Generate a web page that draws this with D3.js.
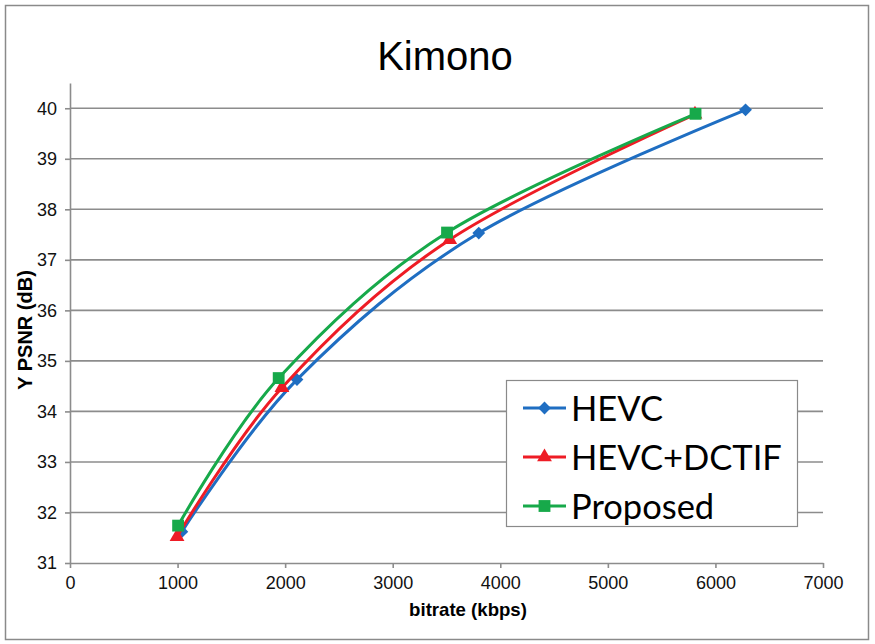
<!DOCTYPE html>
<html>
<head>
<meta charset="utf-8">
<script src="https://cdn.jsdelivr.net/npm/d3@7"></script>
<style>
  body { margin: 0; background: #fff; }
  svg { display: block; }
</style>
</head>
<body>
<div id="graph"></div>
<script>
// data
var seriesNames = ["HEVC", "HEVC+DCTIF", "Proposed"];
var hevcRate = [1040, 2110, 3800, 6280];
var hevcPsnr = [31.62, 34.63, 37.53, 39.97];
var dctifRate = [995, 1970, 3530, 5810];
var dctifPsnr = [31.52, 34.47, 37.40, 39.88];
var propRate = [1005, 1940, 3505, 5815];
var propPsnr = [31.74, 34.66, 37.54, 39.89];
var xTicks = [0, 1000, 2000, 3000, 4000, 5000, 6000, 7000];
var yTicks = [31, 32, 33, 34, 35, 36, 37, 38, 39, 40];

var colors = ["#1f6ec2", "#ee1c25", "#17a94a"];
// diamond = square turned 45 degrees
var markers = [d3.symbolSquare, d3.symbolTriangle, d3.symbolSquare];
var sizes = [82, 95, 140];
var rot = [45, 0, 0];

function zip(xs, ys) {
    return xs.map(function (x, i) { return {x: x, y: ys[i]}; });
}
var series = [
    {name: seriesNames[0], values: zip(hevcRate, hevcPsnr)},
    {name: seriesNames[1], values: zip(dctifRate, dctifPsnr)},
    {name: seriesNames[2], values: zip(propRate, propPsnr)}
];

var width = 875, height = 644;
var svg = d3.select("#graph").append("svg")
    .attr("width", width)
    .attr("height", height);

// outer frame
svg.append("rect")
    .attr("x", 5.5).attr("y", 5.5)
    .attr("width", 863).attr("height", 634)
    .attr("fill", "#fff")
    .attr("stroke", "#8a8a8a")
    .attr("stroke-width", 1.5);

var x = d3.scaleLinear().domain([0, 7000]).range([70, 823]);
var y = d3.scaleLinear().domain([31, 40.5]).range([563, 83]);

var grid = "#8c8c8c";
var font = "'Liberation Sans', Arial, sans-serif";

// gridlines
svg.append("g").selectAll("line")
    .data(yTicks.slice(1))
    .enter().append("line")
    .attr("x1", x(0)).attr("x2", x(7000))
    .attr("y1", function (d) { return y(d); })
    .attr("y2", function (d) { return y(d); })
    .attr("stroke", grid)
    .attr("stroke-width", 1.6);

var xAxis = svg.append("g")
    .attr("transform", "translate(0," + y(31) + ")")
    .call(d3.axisBottom(x).tickValues(xTicks).tickFormat(d3.format("d"))
        .tickSize(5).tickSizeOuter(0).tickPadding(8));

var yAxis = svg.append("g")
    .attr("transform", "translate(" + x(0) + ",0)")
    .call(d3.axisLeft(y).tickValues(yTicks).tickFormat(d3.format("d"))
        .tickSize(5).tickSizeOuter(0).tickPadding(8));

[xAxis, yAxis].forEach(function (a) {
    a.select(".domain").attr("stroke", grid).attr("stroke-width", 1.6);
    a.selectAll(".tick line").attr("stroke", grid).attr("stroke-width", 1.6);
    a.selectAll("text")
        .attr("fill", "#111")
        .style("font-family", font)
        .style("font-size", "18px");
});

// title and axis labels
svg.append("text")
    .attr("x", 445).attr("y", 70)
    .attr("text-anchor", "middle")
    .style("font-family", font)
    .style("font-size", "40px")
    .text("Kimono");

svg.append("text")
    .attr("x", 468).attr("y", 616)
    .attr("text-anchor", "middle")
    .style("font-family", font)
    .style("font-weight", "bold")
    .style("font-size", "18.6px")
    .text("bitrate (kbps)");

svg.append("text")
    .attr("transform", "translate(32,330) rotate(-90)")
    .attr("text-anchor", "middle")
    .style("font-family", font)
    .style("font-weight", "bold")
    .style("font-size", "20px")
    .text("Y PSNR (dB)");

// smoothed lines like Excel
var line = d3.line()
    .x(function (d) { return x(d.x); })
    .y(function (d) { return y(d.y); })
    .curve(d3.curveCardinal.tension(0));

series.forEach(function (s, i) {
    var g = svg.append("g");
    g.append("path")
        .datum(s.values)
        .attr("fill", "none")
        .attr("stroke", colors[i])
        .attr("stroke-width", 3)
        .attr("d", line);
    g.selectAll(".pt")
        .data(s.values)
        .enter().append("path")
        .attr("class", "pt")
        .attr("transform", function (d) {
            return "translate(" + x(d.x) + "," + y(d.y) + ") rotate(" + rot[i] + ")";
        })
        .attr("d", d3.symbol().type(markers[i]).size(sizes[i]))
        .attr("fill", colors[i]);
});

// legend
var lg = svg.append("g");
lg.append("rect")
    .attr("x", 506.5).attr("y", 380.5)
    .attr("width", 291).attr("height", 146)
    .attr("fill", "#fff")
    .attr("stroke", "#8a8a8a")
    .attr("stroke-width", 1.2);

seriesNames.forEach(function (name, i) {
    var cy = 408 + i * 49;
    lg.append("line")
        .attr("x1", 523).attr("x2", 566)
        .attr("y1", cy).attr("y2", cy)
        .attr("stroke", colors[i])
        .attr("stroke-width", 3);
    lg.append("path")
        .attr("transform", "translate(544.5," + cy + ") rotate(" + rot[i] + ")")
        .attr("d", d3.symbol().type(markers[i]).size(sizes[i]))
        .attr("fill", colors[i]);
    lg.append("text")
        .attr("x", 571).attr("y", cy + 13)
        .style("font-family", "Lato, 'Open Sans', sans-serif")
        .style("font-size", "34.5px")
        .attr("fill", "#000")
        .text(name);
});
</script>
</body>
</html>
